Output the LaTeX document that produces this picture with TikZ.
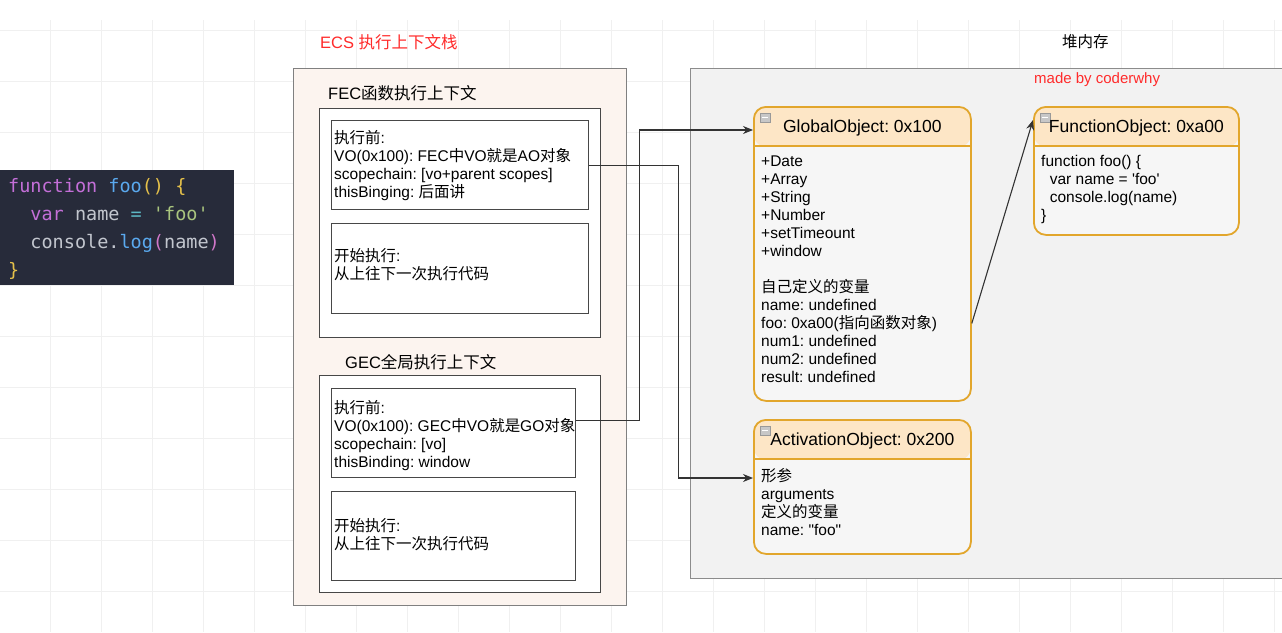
\documentclass[tikz,border=0pt]{standalone}
\usepackage{fontspec}
\setmainfont{Liberation Sans}
\newfontfamily\cjkfont{Noto Sans CJK SC}
\newfontfamily\codefont{DejaVu Sans Mono}
\newcommand{\zh}[1]{{\cjkfont #1}}
\usepackage{xcolor}
\usetikzlibrary{calc,arrows.meta,positioning}
\definecolor{ecsfill}{HTML}{FCF4EF}
\definecolor{heapfill}{HTML}{F2F2F2}
\definecolor{objhead}{HTML}{FDE6C6}
\definecolor{objedge}{HTML}{E2A62C}
\definecolor{objbody}{HTML}{F6F6F6}
\definecolor{codebg}{HTML}{272B3A}
\definecolor{labelred}{HTML}{FF2B2B}
\definecolor{cpurple}{HTML}{C46FD8}
\definecolor{cblue}{HTML}{5AA9EE}
\definecolor{cyellow}{HTML}{E4C04A}
\definecolor{cgray}{HTML}{C2C6CE}
\definecolor{ccyan}{HTML}{5CB8C4}
\definecolor{cgreen}{HTML}{A9C57E}
\definecolor{cpink}{HTML}{D077C8}
\frenchspacing

\begin{document}
\begin{tikzpicture}[
    x=1pt, y=-1pt,
    node distance=13pt,
    bodytext/.style={font=\fontsize{15.5}{18}\selectfont, align=left, inner sep=0pt, anchor=north west},
    title/.style={font=\fontsize{16.5}{18}\selectfont, inner sep=0pt, anchor=west},
    headtext/.style={font=\fontsize{17.5}{20}\selectfont, inner sep=0pt},
    stackbox/.style={rectangle, draw=black!50, line width=1.3pt, fill=ecsfill, anchor=north west, inner sep=0pt},
    ctxbox/.style={rectangle, draw=black!72, line width=1.2pt, fill=white, anchor=north west, inner sep=0pt},
    heapbox/.style={rectangle, draw=black!45, line width=1.3pt, fill=heapfill, anchor=north west, inner sep=0pt},
    objbox/.style={rectangle, rounded corners=12pt, draw=objedge, line width=1.8pt, fill=objbody,
                   anchor=north west, inner sep=0pt,
                   path picture={\fill[objhead] (path picture bounding box.north west)
                                 rectangle ([yshift=-40pt]path picture bounding box.north east);}},
    foldicon/.style={fill=black!22, draw=black!40, line width=0.5pt},
    gridline/.style={draw=black!6, line width=0.8pt},
    arrow/.style={-{Stealth[length=10pt,width=8pt]}, line width=1.1pt, black!80},
]
\useasboundingbox (0,0) rectangle (1282,632);
\clip (0,0) rectangle (1282,632);
\fill[white] (0,0) rectangle (1282,632);
\foreach \gx in {50,101,...,1282} \draw[gridline] (\gx,20) -- (\gx,632);
\foreach \gy in {30,81,...,632} \draw[gridline] (0,\gy) -- (1282,\gy);

\fill[codebg] (0,170) rectangle (234,285);
\node[inner sep=0pt, anchor=north west, align=left, font=\codefont\fontsize{18.5}{28}\selectfont] (code) at (8,178)
  {\textcolor{cpurple}{function} \textcolor{cblue}{foo}\textcolor{cyellow}{() \{}\\
   \ \ \textcolor{cpurple}{var} \textcolor{cgray}{name} \textcolor{ccyan}{=} \textcolor{cgreen}{'foo'}\\
   \ \ \textcolor{cgray}{console.}\textcolor{cblue}{log}\textcolor{cpink}{(}\textcolor{cgray}{name}\textcolor{cpink}{)}\\
   \textcolor{cyellow}{\}}};

\node[title, text=labelred] (ecstitle) at (320,42) {ECS \zh{执行上下文栈}};
\node[stackbox, minimum width=333pt, minimum height=537pt] (ecs) at (293,68) {};
\node[ctxbox, minimum width=281pt, minimum height=229pt] (fec) at (319,108) {};
\node[title] (feclabel) at ([shift={(9,-15)}]fec.north west) {FEC\zh{函数执行上下文}};
\node[ctxbox, minimum width=257pt, minimum height=89pt] (fecpre) at (331,120) {};
\node[ctxbox, minimum width=257pt, minimum height=90pt, below=of fecpre] (fecrun) {};
\node[bodytext] at ([shift={(3,10.5)}]fecpre.north west)
  {\zh{执行前}:\\VO(0x100): FEC\zh{中}VO\zh{就是}AO\zh{对象}\\scopechain: [vo+parent scopes]\\thisBinging: \zh{后面讲}};
\node[bodytext] at ([shift={(3,25.5)}]fecrun.north west)
  {\zh{开始执行}:\\\zh{从上往下一次执行代码}};

\node[ctxbox, minimum width=281pt, minimum height=217pt] (gec) at (319,375) {};
\node[title] (geclabel) at ([shift={(26,-13)}]gec.north west) {GEC\zh{全局执行上下文}};
\node[ctxbox, minimum width=244pt, minimum height=89pt] (gecpre) at (331,388) {};
\node[ctxbox, minimum width=244pt, minimum height=89pt, below=of gecpre] (gecrun) {};
\node[bodytext] at ([shift={(3,12.5)}]gecpre.north west)
  {\zh{执行前}:\\VO(0x100): GEC\zh{中}VO\zh{就是}GO\zh{对象}\\scopechain: [vo]\\thisBinding: window};
\node[bodytext] at ([shift={(3,27.5)}]gecrun.north west)
  {\zh{开始执行}:\\\zh{从上往下一次执行代码}};

\node[title, font=\fontsize{15.5}{18}\selectfont] (heaptitle) at (1062,42) {\zh{堆内存}};
\node[heapbox, minimum width=600pt, minimum height=510pt] (heap) at (690,68) {};
\node[title, text=labelred, font=\fontsize{15}{18}\selectfont] (madeby) at (1034,80) {made by coderwhy};

\node[objbox, minimum width=217pt, minimum height=294pt] (globalobj) at (753,106) {};
\node[objbox, minimum width=205pt, minimum height=128pt] (funcobj) at (1033,106) {};
\node[objbox, minimum width=217pt, minimum height=134pt] (actobj) at (753,419) {};
\foreach \obj in {globalobj,funcobj,actobj} {
  \draw[objedge, line width=1.8pt] ([yshift=-40pt]\obj.north west) -- ([yshift=-40pt]\obj.north east);
  \draw[foldicon] ([shift={(7,7)}]\obj.north west) rectangle ++(10,9);
  \draw[white, line width=1pt] ([shift={(9,11.5)}]\obj.north west) -- ++(6,0);
}
\node[headtext] (gohead) at ([yshift=-22pt]globalobj.north) {GlobalObject: 0x100};
\node[headtext] (fohead) at ([yshift=-22pt]funcobj.north) {FunctionObject: 0xa00};
\node[headtext] (aohead) at ([yshift=-22pt]actobj.north) {ActivationObject: 0x200};
\node[bodytext] at ([shift={(8,49.5)}]globalobj.north west)
  {+Date\\+Array\\+String\\+Number\\+setTimeount\\+window\\[18pt]
   \zh{自己定义的变量}\\name: undefined\\foo: 0xa00(\zh{指向函数对象})\\num1: undefined\\num2: undefined\\result: undefined};
\node[bodytext] at ([shift={(8,49.5)}]funcobj.north west)
  {function foo() \{\\\ \ var name = \textquotesingle foo\textquotesingle\\\ \ console.log(name)\\\}};
\node[bodytext] at ([shift={(8,49.5)}]actobj.north west)
  {\zh{形参}\\arguments\\\zh{定义的变量}\\name: \textquotedbl foo\textquotedbl};

\draw[arrow] ($(gecpre.north east)!0.36!(gecpre.south east)$) -- ++(63,0) |- ([yshift=-24pt]globalobj.north west);
\draw[arrow] (fecpre.east) -- ++(89,0) |- ([yshift=-59pt]actobj.north west);
\draw[arrow] ($(globalobj.north east)!0.735!(globalobj.south east)$) -- ([yshift=-14pt]funcobj.north west);
\end{tikzpicture}
\end{document}
